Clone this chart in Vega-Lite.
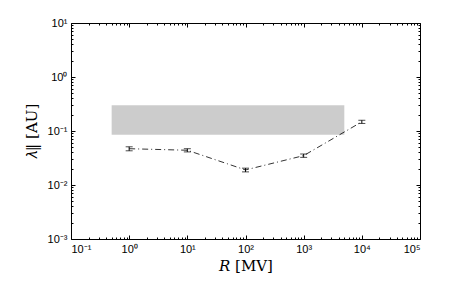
{
  "$schema": "https://vega.github.io/schema/vega-lite/v6.json",
  "width": 349,
  "height": 216,
  "autosize": {"type": "none"},
  "padding": {"left": 71, "top": 23, "right": 43, "bottom": 58},
  "background": "white",
  "config": {
    "view": {"stroke": null},
    "axis": {"domain": false, "grid": false, "tickColor": "black", "labelColor": "black", "labelFont": "Liberation Sans", "labelFontSize": 11, "titleColor": "black"}
  },
  "datasets": {
    "band": [{"x": 0.5, "x2": 5000, "y": 0.085, "y2": 0.3}],
    "pts": [
      {"R": 1, "lam": 0.047, "lo": 0.043, "hi": 0.051},
      {"R": 10, "lam": 0.044, "lo": 0.041, "hi": 0.047},
      {"R": 100, "lam": 0.019, "lo": 0.0175, "hi": 0.0205},
      {"R": 1000, "lam": 0.035, "lo": 0.0325, "hi": 0.0375},
      {"R": 10000, "lam": 0.148, "lo": 0.138, "hi": 0.158}
    ]
  },
  "resolve": {"axis": {"x": "independent", "y": "independent"}},
  "layer": [
    {
      "data": {"name": "band"},
      "mark": {"type": "rect", "color": "#cccccc"},
      "encoding": {
        "x": {"field": "x", "type": "quantitative", "scale": {"type": "log", "domain": [0.1, 100000], "nice": false},
          "axis": {"orient": "bottom", "domain": true, "domainColor": "black", "values": [0.1, 1, 10, 100, 1000, 10000, 100000], "tickSize": -4, "labelPadding": 8,
            "labelExpr": "'10' + (round(log(datum.value)/LN10) == -1 ? '⁻¹' : round(log(datum.value)/LN10) == 0 ? '⁰' : round(log(datum.value)/LN10) == 1 ? '¹' : round(log(datum.value)/LN10) == 2 ? '²' : round(log(datum.value)/LN10) == 3 ? '³' : round(log(datum.value)/LN10) == 4 ? '⁴' : '⁵')",
            "title": "𝑅 [MV]", "titleFont": "DejaVu Serif", "titleFontSize": 15, "titleFontWeight": "normal", "titlePadding": 4}},
        "x2": {"field": "x2"},
        "y": {"field": "y", "type": "quantitative", "scale": {"type": "log", "domain": [0.001, 10], "nice": false},
          "axis": {"orient": "left", "domain": true, "domainColor": "black", "values": [0.001, 0.01, 0.1, 1, 10], "tickSize": -4, "labelPadding": 8,
            "labelExpr": "'10' + (round(log(datum.value)/LN10) == -3 ? '⁻³' : round(log(datum.value)/LN10) == -2 ? '⁻²' : round(log(datum.value)/LN10) == -1 ? '⁻¹' : round(log(datum.value)/LN10) == 0 ? '⁰' : '¹')",
            "title": "𝜆‖ [AU]", "titleFont": "DejaVu Serif", "titleFontSize": 15, "titleFontWeight": "normal", "titlePadding": 8}},
        "y2": {"field": "y2"}
      }
    },
    {
      "data": {"name": "pts"},
      "mark": {"type": "line", "color": "black", "strokeWidth": 0.8, "strokeDash": [6, 3, 1, 3]},
      "encoding": {
        "x": {"field": "R", "type": "quantitative", "scale": {"type": "log", "domain": [0.1, 100000], "nice": false},
          "axis": {"orient": "top", "domain": true, "domainColor": "black", "values": [0.1, 1, 10, 100, 1000, 10000, 100000], "tickSize": -4, "labels": false, "title": null}},
        "y": {"field": "lam", "type": "quantitative", "scale": {"type": "log", "domain": [0.001, 10], "nice": false},
          "axis": {"orient": "right", "domain": true, "domainColor": "black", "values": [0.001, 0.01, 0.1, 1, 10], "tickSize": -4, "labels": false, "title": null}}
      }
    },
    {
      "data": {"name": "pts"},
      "mark": {"type": "rule", "color": "black", "strokeWidth": 1},
      "encoding": {
        "x": {"field": "R", "type": "quantitative", "scale": {"type": "log", "domain": [0.1, 100000], "nice": false},
          "axis": {"orient": "bottom", "values": [0.2,0.3,0.4,0.5,0.6,0.7,0.8,0.9,2,3,4,5,6,7,8,9,20,30,40,50,60,70,80,90,200,300,400,500,600,700,800,900,2000,3000,4000,5000,6000,7000,8000,9000,20000,30000,40000,50000,60000,70000,80000,90000], "tickSize": -2, "labels": false, "title": null}},
        "y": {"field": "lo", "type": "quantitative", "scale": {"type": "log", "domain": [0.001, 10], "nice": false},
          "axis": {"orient": "left", "values": [0.002,0.003,0.004,0.005,0.006,0.007,0.008,0.009,0.02,0.03,0.04,0.05,0.06,0.07,0.08,0.09,0.2,0.3,0.4,0.5,0.6,0.7,0.8,0.9,2,3,4,5,6,7,8,9], "tickSize": -2, "labels": false, "title": null}},
        "y2": {"field": "hi"}
      }
    },
    {
      "data": {"name": "pts"},
      "mark": {"type": "tick", "color": "black", "orient": "horizontal", "size": 7, "thickness": 1},
      "encoding": {
        "x": {"field": "R", "type": "quantitative", "scale": {"type": "log", "domain": [0.1, 100000], "nice": false},
          "axis": {"orient": "top", "values": [0.2,0.3,0.4,0.5,0.6,0.7,0.8,0.9,2,3,4,5,6,7,8,9,20,30,40,50,60,70,80,90,200,300,400,500,600,700,800,900,2000,3000,4000,5000,6000,7000,8000,9000,20000,30000,40000,50000,60000,70000,80000,90000], "tickSize": -2, "labels": false, "title": null}},
        "y": {"field": "lo", "type": "quantitative", "scale": {"type": "log", "domain": [0.001, 10], "nice": false},
          "axis": {"orient": "right", "values": [0.002,0.003,0.004,0.005,0.006,0.007,0.008,0.009,0.02,0.03,0.04,0.05,0.06,0.07,0.08,0.09,0.2,0.3,0.4,0.5,0.6,0.7,0.8,0.9,2,3,4,5,6,7,8,9], "tickSize": -2, "labels": false, "title": null}}
      }
    },
    {
      "data": {"name": "pts"},
      "mark": {"type": "tick", "color": "black", "orient": "horizontal", "size": 7, "thickness": 1},
      "encoding": {
        "x": {"field": "R", "type": "quantitative", "scale": {"type": "log", "domain": [0.1, 100000], "nice": false}, "axis": null},
        "y": {"field": "hi", "type": "quantitative", "scale": {"type": "log", "domain": [0.001, 10], "nice": false}, "axis": null}
      }
    }
  ]
}
